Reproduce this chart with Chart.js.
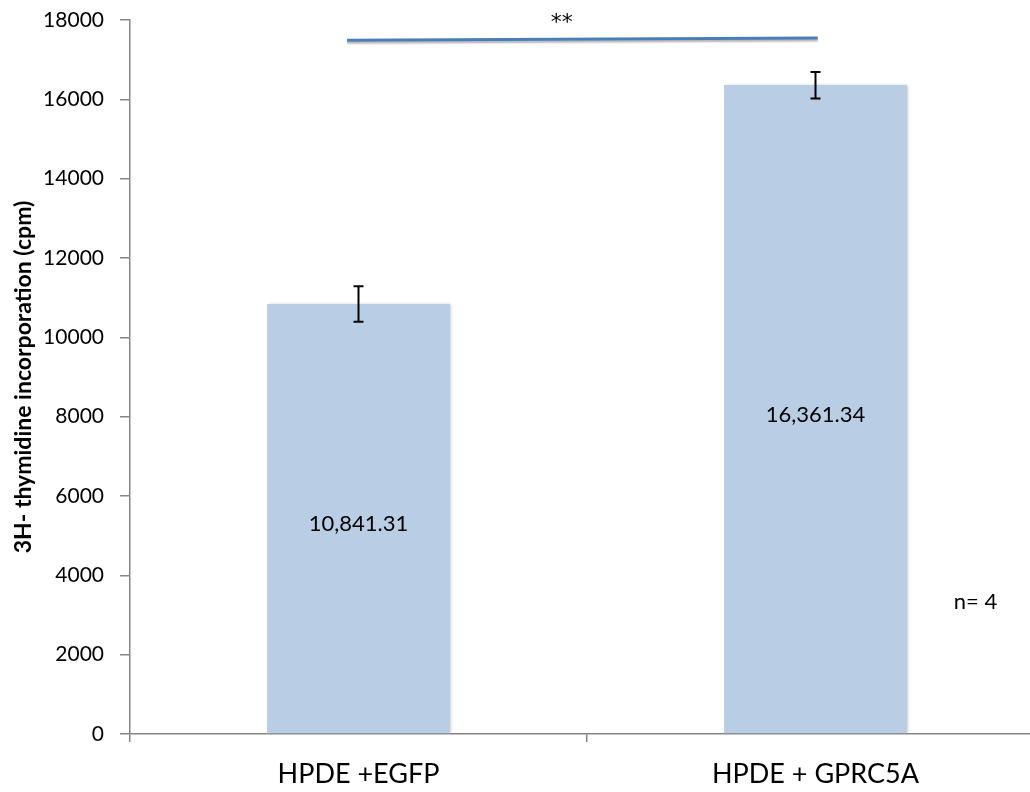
<!DOCTYPE html>
<html>
<head>
<meta charset="utf-8">
<script src="https://cdn.jsdelivr.net/npm/chart.js@4.4.0/dist/chart.umd.min.js"></script>
<style>
html,body{margin:0;padding:0;background:#fff;overflow:hidden;}
#wrap{position:relative;width:1044px;height:792px;}
</style>
</head>
<body>
<div id="wrap"><canvas id="c"></canvas></div>
<script>
const categories = ["HPDE +EGFP", "HPDE + GPRC5A"];
const values = [10841.31, 16361.34];
const errHigh = [11290, 16690];
const errLow = [10390, 16020];
const valueLabels = ["10,841.31", "16,361.34"];
const yTicks = [0, 2000, 4000, 6000, 8000, 10000, 12000, 14000, 16000, 18000];
const axisTitle = "3H- thymidine incorporation (cpm)";
const sigText = "**";
const sigLineX = [-0.025, 1.005];
const sigLineY = [17490, 17545];
const sigTextPos = [0.445, 17910];
const nText = "n= 4";
const nTextPos = [1.35, 3330];

const FONT = "Lato, 'Open Sans', sans-serif";
const AXIS = "#868686";

const extras = {
  id: 'extras',
  beforeDatasetsDraw(chart) {
    const ctx = chart.ctx;
    ctx.save();
    ctx.shadowColor = 'rgba(0,0,0,0.28)';
    ctx.shadowBlur = 3;
    ctx.shadowOffsetX = 1.5;
    ctx.shadowOffsetY = 0;
  },
  afterDatasetsDraw(chart) {
    const ctx = chart.ctx;
    ctx.restore();
    const x = chart.scales.x, y = chart.scales.y;
    ctx.save();
    ctx.fillStyle = '#000';
    ctx.font = "22px " + FONT;
    ctx.textAlign = 'center';
    ctx.textBaseline = 'middle';
    values.forEach((v, i) => {
      ctx.fillText(valueLabels[i], x.getPixelForValue(i), y.getPixelForValue(v / 2) + 5);
    });
    ctx.strokeStyle = '#000';
    ctx.lineWidth = 2;
    values.forEach((v, i) => {
      const px = x.getPixelForValue(i);
      const t = y.getPixelForValue(errHigh[i]);
      const b = y.getPixelForValue(errLow[i]);
      ctx.beginPath();
      ctx.moveTo(px, t); ctx.lineTo(px, b);
      ctx.moveTo(px - 5, t); ctx.lineTo(px + 5, t);
      ctx.moveTo(px - 5, b); ctx.lineTo(px + 5, b);
      ctx.stroke();
    });
    ctx.save();
    ctx.shadowColor = 'rgba(0,0,0,0.3)';
    ctx.shadowBlur = 2;
    ctx.shadowOffsetY = 2;
    ctx.strokeStyle = '#4A7EBB';
    ctx.lineWidth = 3;
    ctx.beginPath();
    ctx.moveTo(x.getPixelForValue(sigLineX[0]), y.getPixelForValue(sigLineY[0]));
    ctx.lineTo(x.getPixelForValue(sigLineX[1]), y.getPixelForValue(sigLineY[1]));
    ctx.stroke();
    ctx.restore();
    ctx.fillStyle = '#000';
    ctx.font = "22px 'DejaVu Sans', sans-serif";
    ctx.fillText(sigText, x.getPixelForValue(sigTextPos[0]), y.getPixelForValue(sigTextPos[1]));
    ctx.font = "22px " + FONT;
    ctx.fillText(nText, x.getPixelForValue(nTextPos[0]), y.getPixelForValue(nTextPos[1]));
    ctx.restore();
  }
};

new Chart(document.getElementById('c'), {
  type: 'bar',
  data: {
    labels: categories,
    datasets: [{
      data: values,
      backgroundColor: '#B9CDE5',
      borderWidth: 0,
      categoryPercentage: 1.0,
      barPercentage: 0.4
    }]
  },
  options: {
    responsive: true,
    maintainAspectRatio: false,
    animation: false,
    layout: { padding: { top: 20, left: 0, right: 0, bottom: 0 } },
    plugins: { legend: { display: false }, tooltip: { enabled: false } },
    scales: {
      x: {
        offset: true,
        grid: { offset: true, drawOnChartArea: false, drawTicks: true, tickLength: 8, color: AXIS, lineWidth: 1.5 },
        border: { display: true, color: AXIS, width: 1.5 },
        ticks: { color: '#000', font: { family: FONT, size: 27 }, padding: 16, maxRotation: 0 },
        afterFit(s) { s.height = 58; s.paddingLeft = 0; s.paddingRight = 0; }
      },
      y: {
        min: 0, max: 18000,
        afterBuildTicks(s) { s.ticks = yTicks.map(v => ({ value: v })); },
        grid: { drawOnChartArea: false, drawTicks: true, tickLength: 10, color: AXIS, lineWidth: 1.5 },
        border: { display: true, color: AXIS, width: 1.5 },
        ticks: { color: '#000', font: { family: FONT, size: 21 }, padding: 16, callback: v => String(v) },
        title: { display: true, text: axisTitle, color: '#000', font: { family: FONT, size: 23, weight: 'bold' }, padding: { top: 10, bottom: 0 } },
        afterFit(s) { s.width = 130; s.paddingTop = 0; s.paddingBottom = 0; }
      }
    }
  },
  plugins: [extras]
});
</script>
</body>
</html>
